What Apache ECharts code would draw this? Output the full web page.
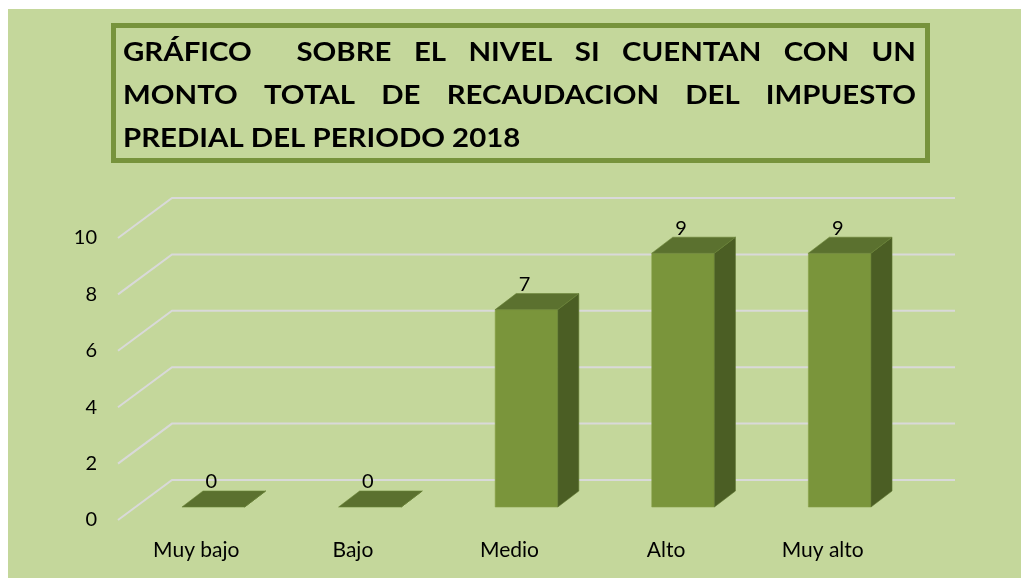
<!DOCTYPE html>
<html>
<head>
<meta charset="utf-8">
<script src="https://cdn.jsdelivr.net/npm/echarts@6/dist/echarts.min.js"></script>
<style>
  html, body { margin: 0; padding: 0; background: #ffffff; }
  #chart { position: absolute; left: 8px; top: 9px; width: 1013px; height: 569px; background: #c4d79b; }
</style>
</head>
<body>
<div id="chart"></div>
<script>
// datos del grafico
var categories = ['Muy bajo', 'Bajo', 'Medio', 'Alto', 'Muy alto'];
var values = [0, 0, 7, 9, 9];
var yTicks = [0, 2, 4, 6, 8, 10];
var titleLines = [
  'GRÁFICO  SOBRE EL NIVEL SI CUENTAN CON UN',
  'MONTO TOTAL DE RECAUDACION DEL IMPUESTO',
  'PREDIAL DEL PERIODO 2018'
];

var FONT = 'Lato, "Noto Sans", sans-serif';
var DEPTH = [54, -40];      // fondo del grafico 3d
var BAR_OFF = [17, -13];    // cara frontal de la barra
var BAR_DEPTH = [21, -16];  // profundidad de la barra

// texto justificado del titulo (palabra por palabra)
function titleWords() {
  var ctx = document.createElement('canvas').getContext('2d');
  var font = 'bold 26px ' + FONT;
  var sx = 1.13;
  ctx.font = font;
  var left = 115, right = 908, out = [];
  titleLines.forEach(function (line, li) {
    var y = 44 + li * 43;
    var parts = line.split(' ');
    var words = [], gaps = [], g = 0;
    parts.forEach(function (p) {
      if (p === '') { g++; return; }
      if (words.length) gaps.push(g);
      words.push(p); g = 1;
    });
    var sum = 0;
    words.forEach(function (w) { sum += ctx.measureText(w).width * sx; });
    var nSp = gaps.reduce(function (a, b) { return a + b; }, 0);
    var sp = ctx.measureText(' ').width * sx;
    if (li < titleLines.length - 1) sp = (right - left - sum) / nSp;
    var x = left;
    words.forEach(function (w, i) {
      out.push({ type: 'text', x: x, y: y, scaleX: sx,
        style: { text: w, font: font, fill: '#000', textVerticalAlign: 'middle' } });
      x += ctx.measureText(w).width * sx + (i < gaps.length ? gaps[i] * sp : 0);
    });
  });
  return out;
}

var chart = echarts.init(document.getElementById('chart'));
chart.setOption({
  animation: false,
  grid: { left: 110, right: 120, top: 229, bottom: 58 },
  xAxis: {
    type: 'category',
    data: categories,
    axisLine: { show: false },
    axisTick: { show: false },
    axisLabel: { color: '#000', fontSize: 21, fontFamily: FONT, margin: 20 }
  },
  yAxis: {
    type: 'value',
    min: 0, max: 10, interval: 2,
    axisLine: { show: false },
    axisTick: { show: false },
    splitLine: { show: false },
    axisLabel: { color: '#000', fontSize: 20, fontFamily: FONT, margin: 21 }
  },
  graphic: [
    { type: 'rect', shape: { x: 105.5, y: 16.5, width: 814, height: 135 },
      style: { fill: 'none', stroke: '#77933c', lineWidth: 5 } }
  ].concat(titleWords()),
  series: [
    {
      // lineas de division con perspectiva
      type: 'custom',
      data: yTicks.map(function (v) { return [0, v]; }),
      encode: { x: 0, y: 1 },
      silent: true,
      z: 1,
      renderItem: function (params, api) {
        var cs = params.coordSys;
        var y = api.coord([0, api.value(1)])[1];
        return {
          type: 'polyline',
          shape: { points: [[cs.x, y], [cs.x + DEPTH[0], y + DEPTH[1]], [cs.x + cs.width + DEPTH[0], y + DEPTH[1]]] },
          style: { stroke: '#d9d9d9', lineWidth: 2, fill: 'none' }
        };
      }
    },
    {
      // barras 3d
      type: 'custom',
      data: values.map(function (v, i) { return [i, v]; }),
      encode: { x: 0, y: 1 },
      z: 2,
      renderItem: function (params, api) {
        var i = api.value(0), v = api.value(1);
        var p0 = api.coord([i, 0]);
        var p1 = api.coord([i, v]);
        var hw = api.size([1, 0])[0] * 0.4 / 2;
        var xl = p0[0] - hw + BAR_OFF[0], xr = p0[0] + hw + BAR_OFF[0];
        var yb = p0[1] + BAR_OFF[1], yt = p1[1] + BAR_OFF[1];
        var dx = BAR_DEPTH[0], dy = BAR_DEPTH[1];
        var kids = [
          { type: 'polygon', shape: { points: [[xr, yb], [xr, yt], [xr + dx, yt + dy], [xr + dx, yb + dy]] },
            style: { fill: '#4b5e24', stroke: '#5e7530', lineWidth: 0.6 } },
          { type: 'polygon', shape: { points: [[xl, yt], [xr, yt], [xr + dx, yt + dy], [xl + dx, yt + dy]] },
            style: { fill: '#5b712f', stroke: '#6a8338', lineWidth: 0.6 } },
          { type: 'text', x: p0[0] + BAR_OFF[0] - 2, y: yt + dy - 9,
            style: { text: String(v), font: '20px ' + FONT, fill: '#000', textAlign: 'center', textVerticalAlign: 'middle' } }
        ];
        if (yb - yt > 0) {
          kids.unshift({ type: 'rect', shape: { x: xl, y: yt, width: xr - xl, height: yb - yt },
            style: { fill: '#7a953b', stroke: '#86a046', lineWidth: 0.6 } });
        }
        return { type: 'group', children: kids };
      }
    }
  ]
});
</script>
</body>
</html>
